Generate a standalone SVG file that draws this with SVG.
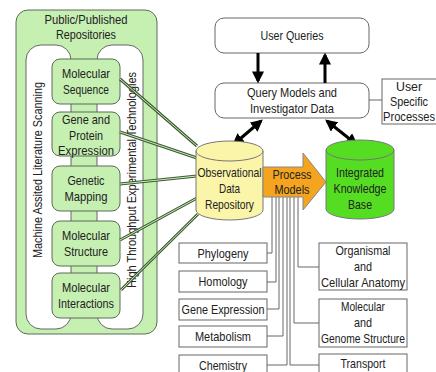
<svg xmlns="http://www.w3.org/2000/svg" width="436" height="372" viewBox="0 0 436 372">
<defs>
<style>
text{font-family:"Liberation Sans",Arial,sans-serif;font-size:13px;fill:#222;text-anchor:middle}
.gbox{fill:#c6efb2;stroke:#5d6b58;stroke-width:1}
.wbox{fill:#fff;stroke:#666;stroke-width:1}
.dl1{stroke:#3f5a36;stroke-width:3;fill:none}
.dl2{stroke:#c6efb2;stroke-width:1;fill:none}
.conn{stroke:#666;stroke-width:1;fill:none}
.thick{stroke:#000;stroke-width:3;fill:none}
</style>
<marker id="ah" viewBox="0 0 10 10" refX="8" refY="5" markerWidth="4" markerHeight="4" orient="auto-start-reverse" markerUnits="strokeWidth">
<path d="M0,0 L10,5 L0,10 Z" fill="#000"/>
</marker>
</defs>
<rect width="436" height="372" fill="#fff"/>

<g id="repositories">
<rect x="16" y="10" width="141" height="324" rx="12" class="gbox"/>
<text x="86" y="24" textLength="83" lengthAdjust="spacingAndGlyphs">Public/Published</text>
<text x="86" y="39" textLength="60" lengthAdjust="spacingAndGlyphs">Repositories</text>
<rect x="26" y="45" width="45" height="284" rx="15" class="wbox"/>
<rect x="97" y="45" width="46" height="284" rx="15" class="wbox"/>
<text transform="translate(42,170) rotate(-90)" textLength="176" lengthAdjust="spacingAndGlyphs">Machine Assited Literature Scanning</text>
<text transform="translate(136,180) rotate(-90)" textLength="216" lengthAdjust="spacingAndGlyphs">High Throughput Experimental Technologies</text>
</g>

<g id="mol-seq"><rect x="52" y="59" width="68" height="45" rx="8" class="gbox"/><text x="86" y="78" textLength="48" lengthAdjust="spacingAndGlyphs">Molecular</text><text x="86" y="94" textLength="46" lengthAdjust="spacingAndGlyphs">Sequence</text></g>
<g id="gene-prot"><rect x="52" y="112" width="68" height="44" rx="8" class="gbox"/><text x="86" y="124" textLength="48" lengthAdjust="spacingAndGlyphs">Gene and</text><text x="86" y="140" textLength="34" lengthAdjust="spacingAndGlyphs">Protein</text><text x="86" y="155" textLength="56" lengthAdjust="spacingAndGlyphs">Expression</text></g>
<g id="gen-map"><rect x="52" y="166" width="68" height="45" rx="8" class="gbox"/><text x="86" y="185" textLength="37" lengthAdjust="spacingAndGlyphs">Genetic</text><text x="86" y="201" textLength="43" lengthAdjust="spacingAndGlyphs">Mapping</text></g>
<g id="mol-struct"><rect x="52" y="221" width="68" height="45" rx="8" class="gbox"/><text x="86" y="240" textLength="48" lengthAdjust="spacingAndGlyphs">Molecular</text><text x="86" y="256" textLength="44" lengthAdjust="spacingAndGlyphs">Structure</text></g>
<g id="mol-inter"><rect x="52" y="273" width="68" height="45" rx="8" class="gbox"/><text x="86" y="292" textLength="48" lengthAdjust="spacingAndGlyphs">Molecular</text><text x="86" y="308" textLength="56" lengthAdjust="spacingAndGlyphs">Interactions</text></g>

<g id="user-queries"><rect x="215" y="18" width="154" height="35" rx="9" class="wbox"/><text x="292" y="40" textLength="63" lengthAdjust="spacingAndGlyphs">User Queries</text></g>
<g id="query-models"><rect x="215" y="83" width="154" height="35" rx="9" class="wbox"/><text x="292" y="97" textLength="90" lengthAdjust="spacingAndGlyphs">Query Models and</text><text x="292" y="113" textLength="84" lengthAdjust="spacingAndGlyphs">Investigator Data</text></g>
<g id="user-specific"><rect x="382" y="79" width="60" height="45" class="wbox"/><text x="409" y="91" textLength="26" lengthAdjust="spacingAndGlyphs">User</text><text x="409" y="106" textLength="38" lengthAdjust="spacingAndGlyphs">Specific</text><text x="409" y="121" textLength="52" lengthAdjust="spacingAndGlyphs">Processes</text></g>

<g id="connectors">
<line x1="369" y1="100" x2="382" y2="100" class="conn"/>
<line x1="258" y1="53" x2="258" y2="81" class="thick" marker-end="url(#ah)"/>
<line x1="325" y1="83" x2="325" y2="55" class="thick" marker-end="url(#ah)"/>
<line x1="261" y1="121" x2="234" y2="144" class="thick" marker-start="url(#ah)" marker-end="url(#ah)"/>
<line x1="327" y1="121" x2="356" y2="144" class="thick" marker-start="url(#ah)" marker-end="url(#ah)"/>
<g>
<path d="M120,79 L197,146 M120,132 L197,158 M120,184 L197,176 M120,240 L197,198 M121,290 L198,214" class="dl1"/>
<path d="M120,79 L197,146 M120,132 L197,158 M120,184 L197,176 M120,240 L197,198 M121,290 L198,214" class="dl2"/>
</g>
<path d="M272,197 V253 H267 M276,197 V282 H267 M279,197 V309 H267 M283,197 V336 H267 M287,197 V365 H267 M290,197 V365 H319 M294,197 V323 H319 M298,197 V267 H319" class="conn"/>
</g>

<g id="observational">
<path d="M196,151 V210 A33.5,10 0 0 0 263,210 V151 Z" fill="#faf5a8" stroke="#777"/>
<ellipse cx="229.5" cy="151" rx="33.5" ry="10" fill="#faf5a8" stroke="#777"/>
<text x="229.5" y="177" textLength="64" lengthAdjust="spacingAndGlyphs">Observational</text><text x="229.5" y="193" textLength="21" lengthAdjust="spacingAndGlyphs">Data</text><text x="229.5" y="209" textLength="49" lengthAdjust="spacingAndGlyphs">Repository</text>
</g>

<g id="process-models">
<polygon points="263,167 303,167 303,153 326,182 303,210 303,197 263,197" fill="#f4a41e" stroke="#888"/>
<text x="292" y="179" textLength="39" lengthAdjust="spacingAndGlyphs">Process</text><text x="292" y="194" textLength="35" lengthAdjust="spacingAndGlyphs">Models</text>
</g>

<g id="integrated">
<path d="M326,150 V209 A34,10 0 0 0 394,209 V150 Z" fill="#55dd22" stroke="#777"/>
<ellipse cx="360" cy="150" rx="34" ry="10" fill="#55dd22" stroke="#777"/>
<text x="360" y="177" textLength="48" lengthAdjust="spacingAndGlyphs">Integrated</text><text x="360" y="193" textLength="53" lengthAdjust="spacingAndGlyphs">Knowledge</text><text x="360" y="209" textLength="24" lengthAdjust="spacingAndGlyphs">Base</text>
</g>

<g id="phylogeny"><rect x="179" y="243" width="88" height="20" class="wbox"/><text x="223" y="258" textLength="51" lengthAdjust="spacingAndGlyphs">Phylogeny</text></g>
<g id="homology"><rect x="179" y="271" width="88" height="21" class="wbox"/><text x="223" y="286" textLength="49" lengthAdjust="spacingAndGlyphs">Homology</text></g>
<g id="gene-expression"><rect x="179" y="299" width="88" height="21" class="wbox"/><text x="223" y="314" textLength="83" lengthAdjust="spacingAndGlyphs">Gene Expression</text></g>
<g id="metabolism"><rect x="179" y="326" width="88" height="21" class="wbox"/><text x="223" y="341" textLength="56" lengthAdjust="spacingAndGlyphs">Metabolism</text></g>
<g id="chemistry"><rect x="179" y="355" width="88" height="22" class="wbox"/><text x="223" y="370" textLength="48" lengthAdjust="spacingAndGlyphs">Chemistry</text></g>
<g id="anatomy"><rect x="319" y="243" width="88" height="47" class="wbox"/><text x="363" y="255" textLength="55" lengthAdjust="spacingAndGlyphs">Organismal</text><text x="363" y="271" textLength="18" lengthAdjust="spacingAndGlyphs">and</text><text x="363" y="287" textLength="84" lengthAdjust="spacingAndGlyphs">Cellular Anatomy</text></g>
<g id="genome"><rect x="319" y="299" width="88" height="48" class="wbox"/><text x="363" y="311" textLength="44" lengthAdjust="spacingAndGlyphs">Molecular</text><text x="363" y="327" textLength="18" lengthAdjust="spacingAndGlyphs">and</text><text x="363" y="343" textLength="84" lengthAdjust="spacingAndGlyphs">Genome Structure</text></g>
<g id="transport"><rect x="319" y="354" width="88" height="24" class="wbox"/><text x="363" y="368" textLength="45" lengthAdjust="spacingAndGlyphs">Transport</text></g>
</svg>
